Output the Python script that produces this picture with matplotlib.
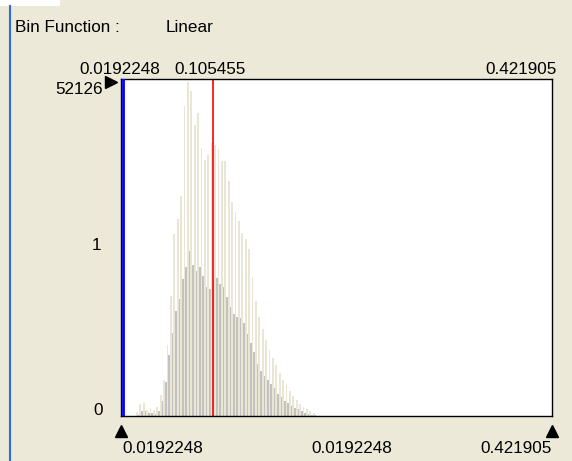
import numpy as np
import matplotlib
matplotlib.use("Agg")
import matplotlib.pyplot as plt

# ==========================================================
# DATA
# ==========================================================
x_min = 0.0192248
x_max = 0.421905
x_break = 0.105455
y_max = 52126

bin_start = 0.03324
bin_step = 0.003177

tall_counts = [628, 1884, 2041, 942, 1256, 942, 1413, 3297, 5652, 11147,
               18683, 28417, 30772, 34383, 48356, 52126, 50711, 45373, 47257, 41762,
               39878, 40663, 42547, 42233, 41605, 39721, 39721, 36738, 33441, 31871,
               30458, 28574, 27632, 26062, 21666, 17898, 15386, 13502, 11932, 10362,
               9106, 8007, 6751, 5652, 4867, 3925, 3140, 2512, 1884, 1413,
               1099, 785, 471]
gray_counts = [157, 785, 785, 471, 471, 314, 785, 2355, 5338, 9577,
               13031, 16328, 18212, 21352, 23236, 25748, 23550, 22608, 23236, 21823,
               20096, 19782, 21352, 21509, 20567, 20096, 18526, 16956, 15857, 15386,
               15229, 14444, 12874, 11461, 10048, 8164, 7065, 6280, 5652, 5024,
               4396, 3454, 2983, 2355, 2041, 1570, 1256, 1099, 785, 471,
               314, 157, 157]

top_labels = ["0.0192248", "0.105455", "0.421905"]
bottom_labels = ["0.0192248", "0.0192248", "0.421905"]
y_labels = ["52126", "1", "0"]

# ==========================================================
# STYLE
# ==========================================================
BG = "#ECE9D8"
plt.rcParams["font.family"] = ["Liberation Sans", "DejaVu Sans"]
FS = 12.3

W, H = 572, 461
fig = plt.figure(figsize=(W / 100, H / 100), dpi=100, facecolor=BG)

def fx(px):
    return px / W

def fy(py):
    return 1 - py / H

# window border bits
fig.add_artist(plt.Rectangle((0, fy(6)), fx(60), 6 / H, color="white",
                             transform=fig.transFigure, lw=0))
fig.add_artist(plt.Line2D([fx(9.5), fx(9.5)], [0, fy(6)], color="#2E6BE6",
                          lw=1.5, transform=fig.transFigure))

fig.text(fx(15), fy(28), "Bin Function :", fontsize=FS, va="center")
fig.text(fx(166), fy(28), "Linear", fontsize=FS, va="center")

# ==========================================================
# PLOT AREA
# ==========================================================
left, right, top, bottom = 121, 552, 79, 416
ax = fig.add_axes([fx(left), fy(bottom), (right - left) / W, (bottom - top) / H])
ax.set_facecolor("white")
ax.set_xlim(x_min, x_max)
ax.set_ylim(0, y_max * (bottom - top) / (bottom - 82))

xs = bin_start + bin_step * np.arange(len(tall_counts))
ax.bar(xs, tall_counts, width=bin_step * 0.5, align="edge",
       color="#E9E6D5", lw=0)
ax.bar(xs + bin_step * 0.5, gray_counts, width=bin_step * 0.5, align="edge",
       color="#C3C2BF", lw=0)

# blue marker sits just inside the frame, red at the break value
ax.plot([0.0035, 0.0035], [0, 1], color="#0000FF", lw=2.0,
        transform=ax.transAxes, zorder=5)
ax.axvline(x_break, color="#FF0000", lw=1.2)

ax.set_xticks([])
ax.set_yticks([])
for s in ax.spines.values():
    s.set_color("black")
    s.set_linewidth(1.0)

# markers
ax.plot([x_min, x_max], [-0.045, -0.045], transform=ax.get_xaxis_transform(),
        ls="none", marker="^", ms=8, color="black", clip_on=False)
fig.add_artist(plt.Line2D([fx(111)], [fy(82)], marker=">", ms=8, color="black",
                          ls="none", transform=fig.transFigure))

# top labels
fig.text(fx(160), fy(69), top_labels[0], fontsize=FS, ha="right", va="center")
fig.text(fx(174), fy(69), top_labels[1], fontsize=FS, ha="left", va="center")
fig.text(fx(557), fy(69), top_labels[2], fontsize=FS, ha="right", va="center")

# bottom labels
fig.text(fx(122), fy(448), bottom_labels[0], fontsize=FS, ha="left", va="center")
fig.text(fx(311), fy(448), bottom_labels[1], fontsize=FS, ha="left", va="center")
fig.text(fx(552), fy(448), bottom_labels[2], fontsize=FS, ha="right", va="center")

# y labels
fig.text(fx(103), fy(89), y_labels[0], fontsize=FS, ha="right", va="center")
fig.text(fx(101), fy(245), y_labels[1], fontsize=FS, ha="right", va="center")
fig.text(fx(103), fy(410), y_labels[2], fontsize=FS, ha="right", va="center")

fig.savefig("out.png", dpi=100, facecolor=BG)
